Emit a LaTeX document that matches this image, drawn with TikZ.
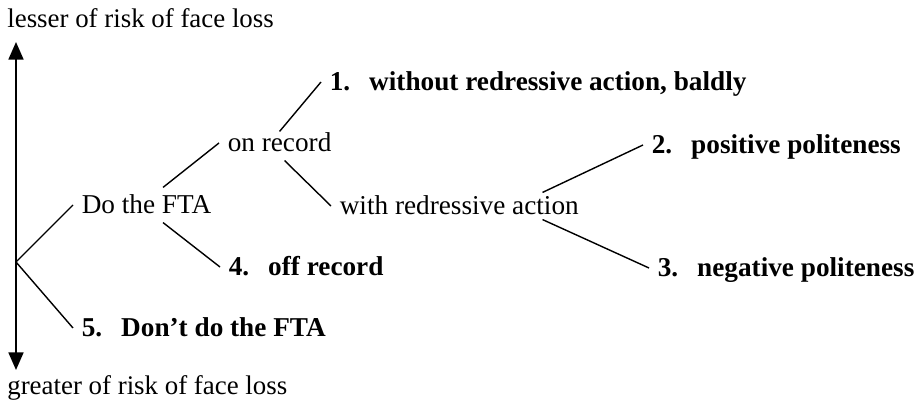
\documentclass[tikz,border=0pt]{standalone}
\usepackage{fontspec}
\setmainfont{Liberation Serif}
\usetikzlibrary{arrows.meta}
\tikzset{>={Triangle[length=10pt,width=8.5pt]}}
\tikzstyle{scalelbl} = [anchor=west, inner sep=0pt,
    font=\fontsize{15.3}{18}\selectfont]
\tikzstyle{txt} = [anchor=west, inner sep=0pt, outer sep=5pt,
    text height=10pt, text depth=0pt, font=\fontsize{15.5}{18}\selectfont]
\tikzstyle{opt} = [txt, font=\fontsize{15.5}{18}\selectfont\bfseries]
\tikzstyle{branch} = [line width=0.8pt]
\newcommand{\strat}[2]{#1.\hspace{0.7em}#2}

\begin{document}
\begin{tikzpicture}[x=0.02cm,y=0.02cm]
\useasboundingbox (0,0) rectangle (917,406);
    %scale
    \coordinate (top) at (16,364);
    \coordinate (bot) at (16,36);
    \coordinate (root) at (16,144);
    \draw[<->, line width=1.1pt] (bot) -- (top);
    \node[scalelbl] (lesser) at (7,388) {lesser of risk of face loss};
    \node[scalelbl] (greater) at (7,18) {greater of risk of face loss};
    %choices
    \node[txt] (do) at (73,201) {Do the FTA};
    \node[opt] (five) at (73,78) {\strat{5}{Don't do the FTA}};
    \node[txt] (onrec) at (219,263) {on record};
    \node[opt] (four) at (220,139) {\strat{4}{off record}};
    \node[opt] (one) at (321,324) {\strat{1}{without redressive action, baldly}};
    \node[txt] (with) at (331,200) {with redressive action};
    \node[opt] (two) at (643,261) {\strat{2}{positive politeness}};
    \node[opt] (three) at (649,138) {\strat{3}{negative politeness}};
    %branches
    \draw[branch] (root) -- (do.west);
    \draw[branch] (root) -- (five.west);
    \draw[branch] ([xshift=0.33cm]do.north) -- (onrec.west);
    \draw[branch] ([xshift=0.33cm]do.south) -- (four.west);
    \draw[branch] ([yshift=-0.12cm]onrec.north) -- (one.west);
    \draw[branch] ([xshift=0.1cm]onrec.south) -- (with.west);
    \draw[branch] ([shift={(-0.9cm,-0.08cm)}]with.north east) -- (two.west);
    \draw[branch] ([shift={(-0.9cm,0.08cm)}]with.south east) -- (three.west);
\end{tikzpicture}
\end{document}
